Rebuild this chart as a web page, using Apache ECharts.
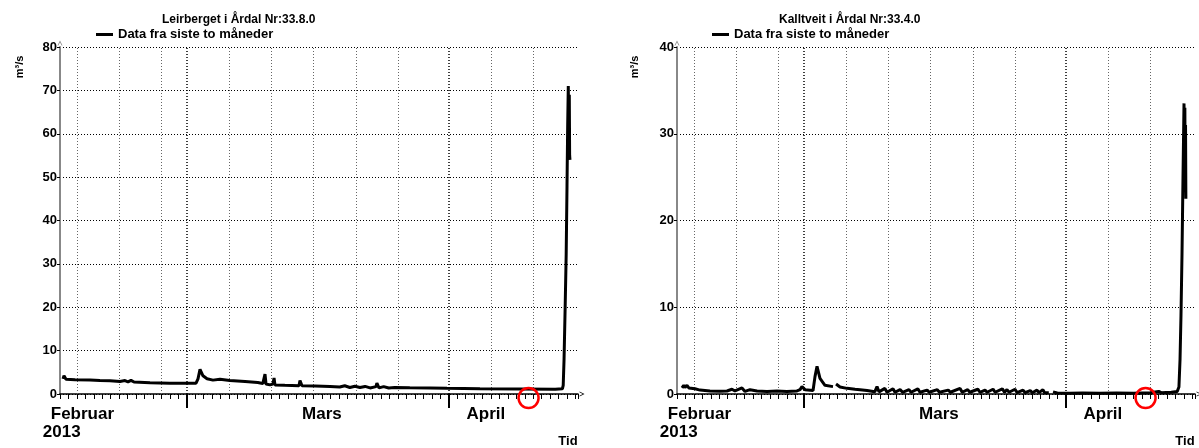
<!DOCTYPE html>
<html><head><meta charset="utf-8">
<script src="https://cdn.jsdelivr.net/npm/echarts@6/dist/echarts.min.js"></script>
<style>html,body{margin:0;padding:0;background:#fff}#c{width:1199px;height:448px}</style>
</head><body><div id="c"></div>
<script>
// ---- data (x in days after 14 Feb 2013 00:00, y in m³/s) ----
const seriesName = 'Data fra siste to måneder';
const leirTitle = 'Leirberget i Årdal Nr:33.8.0';
const kalTitle = 'Kalltveit i Årdal Nr:33.4.0';
const yUnit = 'm³/s';
const xUnit = 'Tid';
const axisMaxDay = 61.3;
const monthStartDays = [15, 46];
const gridDays = [2, 7, 12, 20, 25, 30, 35, 40, 51, 56];
const monthLabelDays = [2.65, 31, 50.4];
const monthLabels = ['Februar', 'Mars', 'April'];
const yearLabelDays = [0.2];
const yearLabels = ['2013'];
const markerDays = [55.45];
const leirYMax = 80, kalYMax = 40, yStep = 10;

const leirDays = [0.36,0.47,0.71,1.78,3.55,4.73,5.92,7.1,7.69,8.05,8.4,8.76,10.65,13.0,15.03,16.1,16.33,16.57,16.92,17.4,18.1,18.93,20.1,21.9,23.4,24.0,24.26,24.38,24.85,25.2,25.33,25.44,26.6,28.28,28.4,28.64,30.2,31.95,33.1,33.7,34.3,34.9,35.5,36.1,36.7,37.4,37.5,37.75,38.3,38.9,39.6,41.4,43.8,45.8,49.7,54.4,58.6,59.45,59.55,59.65,59.78,59.9,60.0,60.08,60.15,60.19,60.23,60.27,60.31,60.35];
const leirQ = [3.5,4.2,3.4,3.3,3.2,3.1,3.05,2.9,3.1,2.8,3.15,2.75,2.6,2.5,2.5,2.5,3.5,5.7,4.2,3.5,3.2,3.4,3.1,2.9,2.65,2.4,4.6,2.3,2.1,2.3,3.7,2.1,2.0,1.9,3.1,1.9,1.85,1.75,1.6,1.9,1.5,1.8,1.5,1.75,1.4,1.7,2.5,1.4,1.7,1.4,1.5,1.45,1.4,1.3,1.2,1.15,1.1,1.2,2.0,8,20,32,48,62,71,64,56,69,55,54];

const kalDays = [0.59,0.8,0.95,1.18,1.4,1.54,2.13,2.72,3.9,5.09,5.92,6.5,6.86,7.69,8.05,8.64,9.47,10.65,11.83,13.0,14.2,14.56,14.79,15.15,15.38,16.1,16.33,16.57,16.92,17.51,18.46,18.6,18.82,19.29,20.12,21.07,21.66,22.49,23.4,23.67,23.9,24.6,24.85,25.56,25.8,26.4,26.7,27.45,27.7,28.5,28.75,29.6,29.85,30.8,31.05,32.1,32.35,33.5,33.75,34.4,34.65,35.6,35.85,36.45,36.7,37.4,37.65,38.5,38.75,39.05,39.3,40.0,40.25,40.95,41.2,41.8,42.05,42.6,42.85,43.3,43.5,44.0,44.2,44.5,45.0,46.5,48.0,50.0,52.0,54.0,56.0,57.0,57.3,58.5,59.2,59.4,59.53,59.64,59.76,59.88,60.0,60.05,60.1,60.14,60.18,60.22];
const kalQ = [0.7,1.0,0.75,1.0,0.7,0.65,0.6,0.45,0.35,0.33,0.35,0.55,0.35,0.7,0.3,0.5,0.35,0.3,0.35,0.3,0.35,0.5,0.85,0.5,0.4,0.4,2.0,3.2,1.8,1.0,0.85,null,1.15,0.8,0.65,0.55,0.5,0.4,0.25,0.85,0.25,0.65,0.2,0.6,0.2,0.5,0.2,0.5,0.2,0.6,0.2,0.45,0.2,0.5,0.2,0.45,0.2,0.65,0.2,0.5,0.2,0.55,0.2,0.45,0.2,0.55,0.2,0.6,0.2,0.5,0.2,0.55,0.15,0.45,0.15,0.4,0.15,0.45,0.15,0.5,0.15,0.15,null,0.25,0.12,0.1,0.12,0.1,0.12,0.1,0.15,0.3,0.15,0.2,0.3,0.8,4,9,16,25,33.5,27,33,24,31,22.5];

// ---- chart ----
const FONT = '"Liberation Sans", Arial, Helvetica, sans-serif';
const chevron = 'path://M0,10 L5,0 L10,10 L8.4,10 L5,3.4 L1.6,10 Z';
const PLOT_H = 347;

const panels = [
  {left: 60, days: leirDays, q: leirQ, yMax: leirYMax, title: leirTitle, titleLeft: 162, legendLeft: 96, yNameX: 20, tidX: 568},
  {left: 677, days: kalDays, q: kalQ, yMax: kalYMax, title: kalTitle, titleLeft: 779, legendLeft: 712, yNameX: 635, tidX: 1185}
];

const grids = [], xAxes = [], yAxes = [], series = [], titles = [], legends = [], graphics = [];
const boldTxt = (size) => ({fontSize: size, fontWeight: 'bold', color: '#000', fontFamily: FONT});

panels.forEach((p, i) => {
  grids.push({left: p.left, top: 47, width: 518, height: PLOT_H, containLabel: false, outerBoundsMode: 'none'});
  const base = {type: 'value', gridIndex: i, min: 0, max: axisMaxDay, position: 'bottom',
    splitLine: {show: false}, axisLabel: {show: false}, axisTick: {show: false}, axisLine: {show: false}};
  const xi = xAxes.length;
  xAxes.push(
    Object.assign({}, base, {interval: 1,
      axisLine: {show: true, onZero: false, lineStyle: {color: '#000', width: 1.5}, symbol: ['none', chevron], symbolSize: [9, 5], symbolOffset: [0, 4]},
      axisTick: {show: true, length: 5, lineStyle: {color: '#000', width: 1}}}),
    Object.assign({}, base, {
      axisTick: {show: true, customValues: monthStartDays, length: 14, lineStyle: {color: '#000', width: 2}},
      axisLabel: Object.assign({show: true, customValues: monthLabelDays, margin: 12,
        formatter: (v) => monthLabels[monthLabelDays.findIndex(d => Math.abs(d - v) < 1e-6)] || ''}, boldTxt(17))}),
    Object.assign({}, base, {
      axisTick: {show: true, inside: true, customValues: gridDays, length: PLOT_H, lineStyle: {color: '#666', width: 1, type: [1, 2]}}}),
    Object.assign({}, base, {
      axisTick: {show: true, inside: true, customValues: monthStartDays, length: PLOT_H, lineStyle: {color: '#000', width: 1.5, type: [1, 2]}},
      axisLabel: Object.assign({show: true, customValues: yearLabelDays, margin: 30,
        formatter: (v) => yearLabels[0]}, boldTxt(17))})
  );
  yAxes.push({type: 'value', gridIndex: i, min: 0, max: p.yMax, interval: yStep,
    axisLine: {show: true, onZero: false, lineStyle: {color: '#888', width: 2}, symbol: ['none', chevron], symbolSize: [8, 5], symbolOffset: [0, 4]},
    axisTick: {show: true, length: 3, lineStyle: {color: '#000', width: 1}},
    axisLabel: Object.assign({margin: 3}, boldTxt(13)),
    splitLine: {show: true, lineStyle: {color: '#000', width: 1, type: [1, 2]}}});
  series.push({type: 'line', name: seriesName, xAxisIndex: xi, yAxisIndex: i,
    data: p.days.map((d, k) => [d, p.q[k] === null ? '-' : p.q[k]]),
    symbol: 'none', showSymbol: false, connectNulls: false, animation: false,
    lineStyle: {color: '#000', width: 3}, itemStyle: {color: '#000'},
    markPoint: {silent: true, symbol: 'circle', symbolSize: 20, animation: false,
      itemStyle: {color: 'rgba(0,0,0,0)', borderColor: '#ff0000', borderWidth: 2.5},
      label: {show: false},
      data: markerDays.map(d => ({coord: [d, 0], symbolOffset: [0, 4]}))}});
  titles.push({text: p.title, left: p.titleLeft, top: 14, padding: 0, textStyle: boldTxt(12)});
  legends.push({left: p.legendLeft, top: 28, padding: 0, icon: 'rect', itemWidth: 17, itemHeight: 3,
    selectedMode: false, data: [seriesName], textStyle: boldTxt(13)});
  graphics.push(
    {type: 'text', x: p.yNameX, y: 67, rotation: Math.PI / 2,
      style: {text: yUnit, font: 'bold 11px ' + FONT, fill: '#000', align: 'center', verticalAlign: 'middle', textAlign: 'center', textVerticalAlign: 'middle'}},
    {type: 'text', x: p.tidX, y: 441,
      style: {text: xUnit, font: 'bold 13px ' + FONT, fill: '#000', align: 'center', verticalAlign: 'middle', textAlign: 'center', textVerticalAlign: 'middle'}}
  );
});

const chart = echarts.init(document.getElementById('c'), null, {renderer: 'canvas'});
chart.setOption({
  animation: false,
  backgroundColor: '#fff',
  title: titles,
  legend: legends,
  grid: grids,
  xAxis: xAxes,
  yAxis: yAxes,
  series: series,
  graphic: graphics
});
</script></body></html>
